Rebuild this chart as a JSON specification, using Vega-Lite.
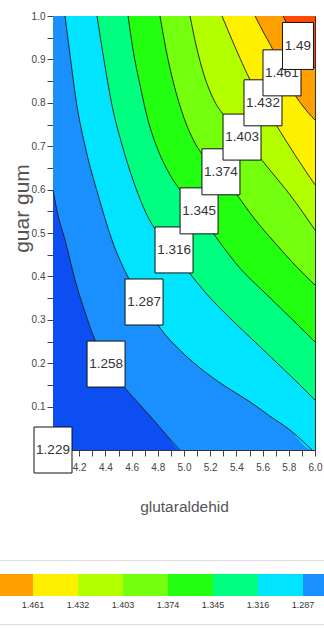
{
  "$schema": "https://vega.github.io/schema/vega-lite/v6.json",
  "width": 262,
  "height": 434,
  "autosize": {"type": "none"},
  "padding": {"left": 53, "top": 16, "right": 9, "bottom": 178},
  "background": "white",
  "config": {
    "view": {"stroke": "#333", "strokeWidth": 1, "fill": "#0a2ee0"},
    "axis": {"grid": false, "domainColor": "#333", "tickColor": "#444", "labelColor": "#444", "titleColor": "#555", "labelFont": "Liberation Sans", "titleFont": "Liberation Sans", "titleFontWeight": "normal"}
  },
  "datasets": {
    "contours": [
      {"level": 1.229, "band": -1.2435, "x": 4.0, "y": 0.04},
      {"level": 1.229, "band": -1.2435, "x": 4.05, "y": 0.0},
      {"level": 1.229, "band": -1.2435, "x": 6.0, "y": 0.0, "e": true},
      {"level": 1.258, "band": -1.2725, "x": 4.0, "y": 0.599},
      {"level": 1.258, "band": -1.2725, "x": 4.038, "y": 0.541},
      {"level": 1.258, "band": -1.2725, "x": 4.092, "y": 0.484},
      {"level": 1.258, "band": -1.2725, "x": 4.168, "y": 0.392},
      {"level": 1.258, "band": -1.2725, "x": 4.244, "y": 0.318},
      {"level": 1.258, "band": -1.2725, "x": 4.321, "y": 0.253},
      {"level": 1.258, "band": -1.2725, "x": 4.435, "y": 0.194},
      {"level": 1.258, "band": -1.2725, "x": 4.55, "y": 0.143},
      {"level": 1.258, "band": -1.2725, "x": 4.664, "y": 0.104},
      {"level": 1.258, "band": -1.2725, "x": 4.779, "y": 0.065},
      {"level": 1.258, "band": -1.2725, "x": 4.878, "y": 0.03},
      {"level": 1.258, "band": -1.2725, "x": 4.969, "y": 0.0},
      {"level": 1.258, "band": -1.2725, "x": 6.0, "y": 0.0, "e": true},
      {"level": 1.287, "band": -1.3015, "x": 4.092, "y": 1.0},
      {"level": 1.287, "band": -1.3015, "x": 4.13, "y": 0.91},
      {"level": 1.287, "band": -1.3015, "x": 4.176, "y": 0.806},
      {"level": 1.287, "band": -1.3015, "x": 4.252, "y": 0.691},
      {"level": 1.287, "band": -1.3015, "x": 4.344, "y": 0.588},
      {"level": 1.287, "band": -1.3015, "x": 4.45, "y": 0.484},
      {"level": 1.287, "band": -1.3015, "x": 4.565, "y": 0.403},
      {"level": 1.287, "band": -1.3015, "x": 4.695, "y": 0.341},
      {"level": 1.287, "band": -1.3015, "x": 4.817, "y": 0.281},
      {"level": 1.287, "band": -1.3015, "x": 4.969, "y": 0.23},
      {"level": 1.287, "band": -1.3015, "x": 5.122, "y": 0.189},
      {"level": 1.287, "band": -1.3015, "x": 5.313, "y": 0.147},
      {"level": 1.287, "band": -1.3015, "x": 5.504, "y": 0.111},
      {"level": 1.287, "band": -1.3015, "x": 5.656, "y": 0.078},
      {"level": 1.287, "band": -1.3015, "x": 5.809, "y": 0.046},
      {"level": 1.287, "band": -1.3015, "x": 5.977, "y": 0.0},
      {"level": 1.287, "band": -1.3015, "x": 6.0, "y": 0.0, "e": true},
      {"level": 1.316, "band": -1.3305, "x": 4.336, "y": 1.0},
      {"level": 1.316, "band": -1.3305, "x": 4.389, "y": 0.899},
      {"level": 1.316, "band": -1.3305, "x": 4.45, "y": 0.795},
      {"level": 1.316, "band": -1.3305, "x": 4.527, "y": 0.703},
      {"level": 1.316, "band": -1.3305, "x": 4.611, "y": 0.622},
      {"level": 1.316, "band": -1.3305, "x": 4.718, "y": 0.541},
      {"level": 1.316, "band": -1.3305, "x": 4.84, "y": 0.484},
      {"level": 1.316, "band": -1.3305, "x": 5.023, "y": 0.415},
      {"level": 1.316, "band": -1.3305, "x": 5.16, "y": 0.364},
      {"level": 1.316, "band": -1.3305, "x": 5.351, "y": 0.304},
      {"level": 1.316, "band": -1.3305, "x": 5.542, "y": 0.249},
      {"level": 1.316, "band": -1.3305, "x": 5.733, "y": 0.194},
      {"level": 1.316, "band": -1.3305, "x": 5.885, "y": 0.15},
      {"level": 1.316, "band": -1.3305, "x": 6.0, "y": 0.115},
      {"level": 1.345, "band": -1.3595, "x": 4.573, "y": 1.0},
      {"level": 1.345, "band": -1.3595, "x": 4.611, "y": 0.922},
      {"level": 1.345, "band": -1.3595, "x": 4.664, "y": 0.841},
      {"level": 1.345, "band": -1.3595, "x": 4.725, "y": 0.76},
      {"level": 1.345, "band": -1.3595, "x": 4.802, "y": 0.691},
      {"level": 1.345, "band": -1.3595, "x": 4.893, "y": 0.634},
      {"level": 1.345, "band": -1.3595, "x": 5.008, "y": 0.585},
      {"level": 1.345, "band": -1.3595, "x": 5.115, "y": 0.546},
      {"level": 1.345, "band": -1.3595, "x": 5.26, "y": 0.484},
      {"level": 1.345, "band": -1.3595, "x": 5.427, "y": 0.419},
      {"level": 1.345, "band": -1.3595, "x": 5.618, "y": 0.362},
      {"level": 1.345, "band": -1.3595, "x": 5.809, "y": 0.306},
      {"level": 1.345, "band": -1.3595, "x": 6.0, "y": 0.249},
      {"level": 1.374, "band": -1.3885, "x": 4.817, "y": 1.0},
      {"level": 1.374, "band": -1.3885, "x": 4.863, "y": 0.922},
      {"level": 1.374, "band": -1.3885, "x": 4.924, "y": 0.841},
      {"level": 1.374, "band": -1.3885, "x": 5.0, "y": 0.765},
      {"level": 1.374, "band": -1.3885, "x": 5.092, "y": 0.703},
      {"level": 1.374, "band": -1.3885, "x": 5.198, "y": 0.661},
      {"level": 1.374, "band": -1.3885, "x": 5.282, "y": 0.634},
      {"level": 1.374, "band": -1.3885, "x": 5.389, "y": 0.594},
      {"level": 1.374, "band": -1.3885, "x": 5.527, "y": 0.537},
      {"level": 1.374, "band": -1.3885, "x": 5.695, "y": 0.477},
      {"level": 1.374, "band": -1.3885, "x": 5.847, "y": 0.426},
      {"level": 1.374, "band": -1.3885, "x": 6.0, "y": 0.38},
      {"level": 1.403, "band": -1.4175, "x": 5.046, "y": 1.0},
      {"level": 1.403, "band": -1.4175, "x": 5.092, "y": 0.933},
      {"level": 1.403, "band": -1.4175, "x": 5.153, "y": 0.864},
      {"level": 1.403, "band": -1.4175, "x": 5.229, "y": 0.806},
      {"level": 1.403, "band": -1.4175, "x": 5.336, "y": 0.76},
      {"level": 1.403, "band": -1.4175, "x": 5.443, "y": 0.721},
      {"level": 1.403, "band": -1.4175, "x": 5.542, "y": 0.687},
      {"level": 1.403, "band": -1.4175, "x": 5.656, "y": 0.645},
      {"level": 1.403, "band": -1.4175, "x": 5.809, "y": 0.588},
      {"level": 1.403, "band": -1.4175, "x": 6.0, "y": 0.507},
      {"level": 1.432, "band": -1.4465, "x": 5.29, "y": 1.0},
      {"level": 1.432, "band": -1.4465, "x": 5.351, "y": 0.956},
      {"level": 1.432, "band": -1.4465, "x": 5.427, "y": 0.903},
      {"level": 1.432, "band": -1.4465, "x": 5.504, "y": 0.853},
      {"level": 1.432, "band": -1.4465, "x": 5.603, "y": 0.8},
      {"level": 1.432, "band": -1.4465, "x": 5.718, "y": 0.742},
      {"level": 1.432, "band": -1.4465, "x": 5.847, "y": 0.68},
      {"level": 1.432, "band": -1.4465, "x": 6.0, "y": 0.611},
      {"level": 1.461, "band": -1.4755, "x": 5.542, "y": 1.0},
      {"level": 1.461, "band": -1.4755, "x": 5.618, "y": 0.956},
      {"level": 1.461, "band": -1.4755, "x": 5.679, "y": 0.922},
      {"level": 1.461, "band": -1.4755, "x": 5.748, "y": 0.871},
      {"level": 1.461, "band": -1.4755, "x": 5.824, "y": 0.829},
      {"level": 1.461, "band": -1.4755, "x": 5.901, "y": 0.795},
      {"level": 1.461, "band": -1.4755, "x": 6.0, "y": 0.76},
      {"level": 1.49, "band": -1.5045, "x": 5.756, "y": 1.0},
      {"level": 1.49, "band": -1.5045, "x": 5.809, "y": 0.968},
      {"level": 1.49, "band": -1.5045, "x": 5.87, "y": 0.931},
      {"level": 1.49, "band": -1.5045, "x": 5.931, "y": 0.903},
      {"level": 1.49, "band": -1.5045, "x": 6.0, "y": 0.88}
    ],
    "labels": [
      {"label": "1.229", "x": 4.0, "y": 0.0},
      {"label": "1.258", "x": 4.405, "y": 0.198},
      {"label": "1.287", "x": 4.695, "y": 0.341},
      {"label": "1.316", "x": 4.924, "y": 0.461},
      {"label": "1.345", "x": 5.115, "y": 0.551},
      {"label": "1.374", "x": 5.282, "y": 0.641},
      {"label": "1.403", "x": 5.443, "y": 0.721},
      {"label": "1.432", "x": 5.603, "y": 0.8},
      {"label": "1.461", "x": 5.748, "y": 0.869},
      {"label": "1.49", "x": 5.87, "y": 0.931}
    ]
  },
  "encoding": {
    "x": {"field": "x", "type": "quantitative", "scale": {"domain": [4, 6], "nice": false, "zero": false},
      "axis": {"title": "glutaraldehid", "values": [4.0, 4.1, 4.2, 4.3, 4.4, 4.5, 4.6, 4.7, 4.8, 4.9, 5.0, 5.1, 5.2, 5.3, 5.4, 5.5, 5.6, 5.7, 5.8, 5.9, 6.0],
        "labelExpr": "round(datum.value * 10) % 2 == 0 ? format(datum.value, '.1f') : ''",
        "labelFontSize": 10, "labelFlush": false, "labelOverlap": false, "tickSize": 6, "labelPadding": 6,
        "titleFontSize": 15.5, "titleY": 49, "titleBaseline": "top"}},
    "y": {"field": "y", "type": "quantitative", "stack": null, "scale": {"domain": [0, 1], "nice": false, "zero": false},
      "axis": {"title": "guar gum", "values": [0, 0.05, 0.1, 0.15, 0.2, 0.25, 0.3, 0.35, 0.4, 0.45, 0.5, 0.55, 0.6, 0.65, 0.7, 0.75, 0.8, 0.85, 0.9, 0.95, 1.0],
        "labelExpr": "datum.value > 0.01 && round(datum.value * 20) % 2 == 0 ? format(datum.value, '.1f') : ''",
        "labelFontSize": 10, "labelFlush": false, "labelOverlap": false, "tickSize": 6, "labelPadding": 2,
        "titleFontSize": 21, "titleFontWeight": "normal", "titleX": -21, "titleY": 192, "titleAngle": 270, "titleBaseline": "bottom", "titleAlign": "center"}}
  },
  "layer": [
    {
      "data": {"name": "contours"},
      "mark": {"type": "area", "interpolate": "monotone"},
      "encoding": {
        "y2": {"datum": 1},
        "color": {"field": "band", "type": "quantitative",
          "scale": {"type": "quantize", "domain": [-1.519, -1.229],
            "range": ["#ff4a00", "#ff9f00", "#fff000", "#b3ff00", "#73ff0d", "#22ff11", "#00ff80", "#00e4ff", "#1a90ff", "#0d4ef2"]},
          "legend": {"type": "gradient", "orient": "none", "direction": "horizontal", "legendX": -124, "legendY": 544,
            "padding": 14, "strokeColor": "#dddddd", "gradientLength": 450, "gradientThickness": 22, "gradientStrokeWidth": 0,
            "title": null, "labelExpr": "datum.value < -1.47 || datum.value > -1.28 ? '' : format(-datum.value, '.3f')",
            "labelFont": "Liberation Sans", "labelFontSize": 9,
            "labelColor": "#333", "labelOffset": 5, "labelOverlap": false}}
      }
    },
    {
      "data": {"name": "contours"},
      "transform": [{"filter": "!datum.e"}],
      "mark": {"type": "line", "interpolate": "monotone", "color": "#1a1a1a", "strokeWidth": 0.9},
      "encoding": {"detail": {"field": "level", "type": "nominal"}}
    },
    {"data": {"name": "labels"}, "transform": [{"filter": "datum.label == '1.229'"}], "layer": [
      {"mark": {"type": "point", "shape": "M-1.9,-2.3H1.9V2.3H-1.9Z", "size": 400, "filled": true, "fill": "white", "stroke": "#111", "strokeWidth": 1, "opacity": 1, "clip": false}},
      {"mark": {"type": "text", "font": "Liberation Sans", "fontSize": 13.5, "color": "#333", "baseline": "middle", "clip": false}, "encoding": {"text": {"field": "label"}}}]},
    {"data": {"name": "labels"}, "transform": [{"filter": "datum.label == '1.258'"}], "layer": [
      {"mark": {"type": "point", "shape": "M-1.9,-2.3H1.9V2.3H-1.9Z", "size": 400, "filled": true, "fill": "white", "stroke": "#111", "strokeWidth": 1, "opacity": 1, "clip": false}},
      {"mark": {"type": "text", "font": "Liberation Sans", "fontSize": 13.5, "color": "#333", "baseline": "middle", "clip": false}, "encoding": {"text": {"field": "label"}}}]},
    {"data": {"name": "labels"}, "transform": [{"filter": "datum.label == '1.287'"}], "layer": [
      {"mark": {"type": "point", "shape": "M-1.9,-2.3H1.9V2.3H-1.9Z", "size": 400, "filled": true, "fill": "white", "stroke": "#111", "strokeWidth": 1, "opacity": 1, "clip": false}},
      {"mark": {"type": "text", "font": "Liberation Sans", "fontSize": 13.5, "color": "#333", "baseline": "middle", "clip": false}, "encoding": {"text": {"field": "label"}}}]},
    {"data": {"name": "labels"}, "transform": [{"filter": "datum.label == '1.316'"}], "layer": [
      {"mark": {"type": "point", "shape": "M-1.9,-2.3H1.9V2.3H-1.9Z", "size": 400, "filled": true, "fill": "white", "stroke": "#111", "strokeWidth": 1, "opacity": 1, "clip": false}},
      {"mark": {"type": "text", "font": "Liberation Sans", "fontSize": 13.5, "color": "#333", "baseline": "middle", "clip": false}, "encoding": {"text": {"field": "label"}}}]},
    {"data": {"name": "labels"}, "transform": [{"filter": "datum.label == '1.345'"}], "layer": [
      {"mark": {"type": "point", "shape": "M-1.9,-2.3H1.9V2.3H-1.9Z", "size": 400, "filled": true, "fill": "white", "stroke": "#111", "strokeWidth": 1, "opacity": 1, "clip": false}},
      {"mark": {"type": "text", "font": "Liberation Sans", "fontSize": 13.5, "color": "#333", "baseline": "middle", "clip": false}, "encoding": {"text": {"field": "label"}}}]},
    {"data": {"name": "labels"}, "transform": [{"filter": "datum.label == '1.374'"}], "layer": [
      {"mark": {"type": "point", "shape": "M-1.9,-2.3H1.9V2.3H-1.9Z", "size": 400, "filled": true, "fill": "white", "stroke": "#111", "strokeWidth": 1, "opacity": 1, "clip": false}},
      {"mark": {"type": "text", "font": "Liberation Sans", "fontSize": 13.5, "color": "#333", "baseline": "middle", "clip": false}, "encoding": {"text": {"field": "label"}}}]},
    {"data": {"name": "labels"}, "transform": [{"filter": "datum.label == '1.403'"}], "layer": [
      {"mark": {"type": "point", "shape": "M-1.9,-2.3H1.9V2.3H-1.9Z", "size": 400, "filled": true, "fill": "white", "stroke": "#111", "strokeWidth": 1, "opacity": 1, "clip": false}},
      {"mark": {"type": "text", "font": "Liberation Sans", "fontSize": 13.5, "color": "#333", "baseline": "middle", "clip": false}, "encoding": {"text": {"field": "label"}}}]},
    {"data": {"name": "labels"}, "transform": [{"filter": "datum.label == '1.432'"}], "layer": [
      {"mark": {"type": "point", "shape": "M-1.9,-2.3H1.9V2.3H-1.9Z", "size": 400, "filled": true, "fill": "white", "stroke": "#111", "strokeWidth": 1, "opacity": 1, "clip": false}},
      {"mark": {"type": "text", "font": "Liberation Sans", "fontSize": 13.5, "color": "#333", "baseline": "middle", "clip": false}, "encoding": {"text": {"field": "label"}}}]},
    {"data": {"name": "labels"}, "transform": [{"filter": "datum.label == '1.461'"}], "layer": [
      {"mark": {"type": "point", "shape": "M-1.9,-2.3H1.9V2.3H-1.9Z", "size": 400, "filled": true, "fill": "white", "stroke": "#111", "strokeWidth": 1, "opacity": 1, "clip": false}},
      {"mark": {"type": "text", "font": "Liberation Sans", "fontSize": 13.5, "color": "#333", "baseline": "middle", "clip": false}, "encoding": {"text": {"field": "label"}}}]},
    {"data": {"name": "labels"}, "transform": [{"filter": "datum.label == '1.49'"}], "layer": [
      {"mark": {"type": "point", "shape": "M-1.55,-2.35H1.55V2.35H-1.55Z", "size": 400, "filled": true, "fill": "white", "stroke": "#111", "strokeWidth": 1, "opacity": 1, "clip": false}},
      {"mark": {"type": "text", "font": "Liberation Sans", "fontSize": 13.5, "color": "#333", "baseline": "middle", "clip": false}, "encoding": {"text": {"field": "label"}}}]}
  ]
}
